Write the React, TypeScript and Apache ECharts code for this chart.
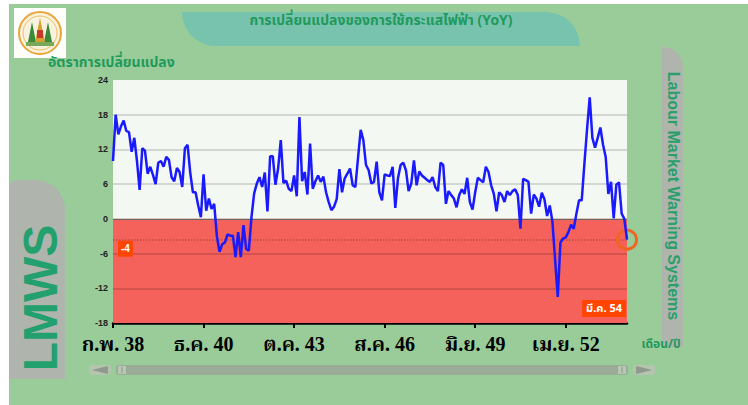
import React, { useEffect, useRef } from "react";
import * as echarts from "echarts";

// Thai month abbreviations; series starts at ก.พ. 38 (Feb 2538 B.E.)
const THAI_MONTHS = ["ม.ค.", "ก.พ.", "มี.ค.", "เม.ย.", "พ.ค.", "มิ.ย.", "ก.ค.", "ส.ค.", "ก.ย.", "ต.ค.", "พ.ย.", "ธ.ค."];
const START_YEAR = 38;
const START_MONTH = 1;

// YoY change of electricity use (%), monthly
const YOY_38_40 = [10, 18, 14.6, 16, 17, 15.2, 15, 11.6, 14, 10, 5, 12.2, 11.8, 7.8, 9, 7.6, 6, 9.7, 10, 9, 10.7, 10.2, 7.2, 6.5, 8.8, 8.1, 5.5, 12.2, 12.8, 8, 4.6, 4.6, 2.3, 0.3];
const YOY_40_43 = [7.7, 1.4, 3.5, 1.7, 2.6, -3, -5.7, -4.4, -4.1, -2.7, -2.9, -2.9, -6.6, -2.3, -6.6, -1.1, -5.2, -5.5, 0.3, 4.4, 6.1, 7.2, 5.5, 8, 1.3, 10.8, 10.8, 5.9, 8.7, 13.6, 6.2, 6.6, 5.2, 4.8];
const YOY_43_46 = [7.5, 3.9, 17.6, 6.5, 8.1, 4.2, 13, 5.2, 6.5, 7.5, 6.4, 7.3, 4.6, 2.9, 1.5, 2.1, 3.4, 8.6, 4.6, 7, 7.8, 8.7, 5.8, 5.5, 10.5, 15.4, 13.6, 9.3, 8.4, 6.1, 6.4, 9.9, 4.6, 3.2];
const YOY_46_49 = [7.7, 7.5, 7.4, 9, 1.9, 7, 9.3, 9.7, 8.4, 4.8, 6.1, 10.1, 5.8, 8.2, 7.5, 7.1, 6.7, 6.4, 7.2, 5.5, 4.8, 9.7, 9.3, 2.6, 4.8, 4.1, 3.5, 2, 4.1, 5.1, 4.3, 7.1, 2.9, 1.6];
const YOY_49_52 = [4.6, 7.1, 6.7, 6.3, 9, 8.1, 5.8, 4.3, 1.3, 4.6, 4.1, 2.9, 4.8, 4.1, 4.8, 5.1, 4.1, -1.7, 6.9, 6.7, 6.4, 0.9, 4.2, 3.5, 2.1, 4.5, 3.4, 0.5, 2.3, -0.5, -7, -13.5, -4.1, -3.4];
const YOY_52_54 = [-3.2, -2.3, -1, -1.7, 0.9, 3.2, 3.2, 9.5, 15.5, 21, 14, 12.3, 14, 15.8, 12.8, 10.7, 4.3, 6.4, 0.1, 5.9, 6.3, 0.9, 0, -3.6];

const VALUES = [...YOY_38_40, ...YOY_40_43, ...YOY_43_46, ...YOY_46_49, ...YOY_49_52, ...YOY_52_54];

const CATEGORIES = VALUES.map((_, i) => {
  const m = START_MONTH + i;
  return THAI_MONTHS[m % 12] + " " + (START_YEAR + Math.floor(m / 12));
});

const Y_MIN = -18;
const Y_MAX = 24;
const Y_STEP = 6;
const GRID_LINES = [18, 12, 6, -6, -12];
const LABEL_EVERY = 34;

const TITLE = "การเปลี่ยนแปลงของการใช้กระแสไฟฟ้า (YoY)";
const Y_NAME = "อัตราการเปลี่ยนแปลง";
const X_NAME = "เดือน/ปี";
const SIDE_TEXT = "Labour Market Warning Systems";
const LOGO_TEXT = "LMWS";

const THAI_FONT = "'Noto Sans Thai', 'Noto Serif Thai', Tahoma, 'DejaVu Sans', sans-serif";
const SERIF_FONT = "'Liberation Serif', 'Noto Serif Thai', 'Noto Sans Thai', serif";

const LOGO_SVG =
  "<svg xmlns='http://www.w3.org/2000/svg' width='52' height='50'>" +
  "<rect width='52' height='50' fill='#ffffff'/>" +
  "<circle cx='26' cy='25' r='21' fill='#f7f1de' stroke='#e8a63a' stroke-width='2'/>" +
  "<circle cx='26' cy='25' r='17' fill='none' stroke='#f0c060' stroke-width='1'/>" +
  "<polygon points='14,34 18,14 22,34' fill='#3a8a3a'/>" +
  "<polygon points='30,34 34,14 38,34' fill='#3a8a3a'/>" +
  "<polygon points='21,34 26,10 31,34' fill='#d8a030'/>" +
  "<rect x='23' y='22' width='6' height='8' fill='#c83a2a'/>" +
  "<rect x='12' y='34' width='28' height='4' fill='#7aa85a'/>" +
  "</svg>";

export default function App() {
  const ref = useRef<HTMLDivElement>(null);

  useEffect(() => {
    document.body.style.margin = "0";
    if (!ref.current) return;
    const chart = echarts.init(ref.current, null, { renderer: "svg" });
    const last = VALUES.length - 1;
    const lastVal = VALUES[last];

    const option: any = {
      animation: false,
      backgroundColor: "#ffffff",
      grid: { left: 113, right: 121, top: 80, bottom: 82, containLabel: false },
      xAxis: {
        type: "category",
        data: CATEGORIES,
        boundaryGap: false,
        axisLine: { show: true, onZero: false, lineStyle: { color: "#000000", width: 2.5 } },
        axisTick: {
          show: true,
          interval: LABEL_EVERY - 1,
          length: 5,
          lineStyle: { color: "#000000", width: 2 },
        },
        axisLabel: {
          interval: LABEL_EVERY - 1,
          color: "#000000",
          fontSize: 20,
          fontWeight: "bold",
          fontFamily: SERIF_FONT,
          margin: 11,
        },
        splitLine: { show: false },
      },
      yAxis: {
        type: "value",
        min: Y_MIN,
        max: Y_MAX,
        interval: Y_STEP,
        axisLine: { show: false },
        axisTick: { show: false },
        splitLine: { show: false },
        axisLabel: {
          color: "#222222",
          fontSize: 9,
          fontWeight: "bold",
          fontFamily: "'Liberation Sans', Arial, sans-serif",
          margin: 5,
        },
      },
      series: [
        {
          type: "line",
          data: [],
          z: 1,
          silent: true,
          markArea: {
            silent: true,
            itemStyle: { opacity: 1 },
            data: [
              [
                { yAxis: 0, itemStyle: { color: "#f4f8f3", opacity: 1 } },
                { yAxis: Y_MAX },
              ],
              [
                { yAxis: Y_MIN, itemStyle: { color: "#f4625b", opacity: 1 } },
                { yAxis: 0 },
              ],
            ],
          },
          markLine: {
            silent: true,
            symbol: "none",
            animation: false,
            label: { show: false },
            data: [
              ...GRID_LINES.map((v) => ({
                yAxis: v,
                lineStyle: { color: "rgba(0,0,0,0.18)", width: 1.5, type: "solid" },
                label: { show: false },
              })),
              {
                yAxis: 0,
                lineStyle: { color: "#666666", width: 1, type: "solid" },
                label: { show: false },
              },
              {
                yAxis: lastVal,
                lineStyle: { color: "rgba(0,0,0,0.22)", width: 1.5, type: "dotted" },
                label: {
                  show: true,
                  position: "insideStartBottom",
                  formatter: () => String(Math.round(lastVal)),
                  backgroundColor: "#ff4500",
                  color: "#ffffff",
                  fontSize: 10,
                  fontWeight: "bold",
                  fontFamily: "'Liberation Sans', Arial, sans-serif",
                  padding: [3, 3, 3, 3],
                  distance: [5, 1],
                },
              },
            ],
          },
        },
        {
          type: "line",
          data: VALUES,
          z: 5,
          showSymbol: false,
          symbol: "none",
          lineStyle: { color: "#1a1aff", width: 2.5 },
          markPoint: {
            silent: true,
            symbol: "circle",
            symbolSize: 19,
            itemStyle: { color: "rgba(0,0,0,0)", borderColor: "#f06522", borderWidth: 3 },
            label: { show: false },
            data: [{ coord: [CATEGORIES[last], lastVal] }],
          },
        },
      ],
      graphic: [
        { type: "rect", z: -100, shape: { x: 9, y: 4, width: 739, height: 401 }, style: { fill: "#99cc99" }, silent: true },
        {
          type: "image",
          z: -50,
          style: { image: "data:image/svg+xml;charset=utf-8," + encodeURIComponent(LOGO_SVG), x: 14, y: 8, width: 52, height: 50 },
          silent: true,
        },
        { type: "rect", z: -50, shape: { x: 182, y: 12, width: 398, height: 34, r: [0, 36, 0, 34] }, style: { fill: "#78c3ae" }, silent: true },
        {
          type: "text",
          z: 50,
          x: 381,
          y: 20,
          style: {
            text: TITLE,
            fill: "#1f9a5c",
            font: "bold 14px " + THAI_FONT,
            textAlign: "center",
            textVerticalAlign: "middle",
          },
          silent: true,
        },
        {
          type: "text",
          z: 50,
          x: 48,
          y: 62,
          style: {
            text: Y_NAME,
            fill: "#1f9a5c",
            font: "bold 14px " + THAI_FONT,
            textAlign: "left",
            textVerticalAlign: "middle",
          },
          silent: true,
        },
        { type: "rect", z: -50, shape: { x: 9, y: 180, width: 56, height: 199, r: [8, 30, 0, 0] }, style: { fill: "#afb4ac" }, silent: true },
        {
          type: "text",
          z: 50,
          x: 40,
          y: 298,
          rotation: Math.PI / 2,
          style: {
            text: LOGO_TEXT,
            fill: "#22a06e",
            font: "bold 48px 'Liberation Sans', Arial, sans-serif",
            textAlign: "center",
            textVerticalAlign: "middle",
          },
          silent: true,
        },
        { type: "rect", z: -50, shape: { x: 662, y: 47, width: 21, height: 300, r: [0, 20, 0, 0] }, style: { fill: "#afb4ac" }, silent: true },
        {
          type: "text",
          z: 50,
          x: 673,
          y: 196,
          rotation: -Math.PI / 2,
          style: {
            text: SIDE_TEXT,
            fill: "#2a9f6c",
            font: "bold 16px 'Liberation Sans', Arial, sans-serif",
            textAlign: "center",
            textVerticalAlign: "middle",
          },
          silent: true,
        },
        {
          type: "text",
          z: 50,
          x: 661,
          y: 344,
          style: {
            text: X_NAME,
            fill: "#1f9a5c",
            font: "bold 12px " + THAI_FONT,
            textAlign: "center",
            textVerticalAlign: "middle",
          },
          silent: true,
        },
        {
          type: "text",
          z: 100,
          x: 626,
          y: 317,
          style: {
            text: CATEGORIES[last],
            fill: "#ffffff",
            font: "bold 11px " + THAI_FONT,
            textAlign: "right",
            textVerticalAlign: "bottom",
            backgroundColor: "#ff4500",
            padding: [3, 4, 3, 4],
          },
          silent: true,
        },
        // scrollbar
        { type: "rect", z: -40, shape: { x: 89, y: 365, width: 22, height: 10, r: 3 }, style: { fill: "#b3c4af" }, silent: true },
        { type: "polygon", z: -39, shape: { points: [[92, 370], [108, 366], [108, 374]] }, style: { fill: "#8f9a8c" }, silent: true },
        { type: "rect", z: -40, shape: { x: 116, y: 365, width: 512, height: 10, r: 2 }, style: { fill: "#9aab97" }, silent: true },
        { type: "rect", z: -39, shape: { x: 118, y: 366, width: 8, height: 8 }, style: { fill: "#b8c7b4" }, silent: true },
        { type: "line", z: -38, shape: { x1: 122, y1: 367, x2: 122, y2: 373 }, style: { stroke: "#8a9688", lineWidth: 1 }, silent: true },
        { type: "rect", z: -39, shape: { x: 618, y: 366, width: 8, height: 8 }, style: { fill: "#b8c7b4" }, silent: true },
        { type: "line", z: -38, shape: { x1: 622, y1: 367, x2: 622, y2: 373 }, style: { stroke: "#8a9688", lineWidth: 1 }, silent: true },
        { type: "rect", z: -40, shape: { x: 633, y: 365, width: 22, height: 10, r: 3 }, style: { fill: "#b3c4af" }, silent: true },
        { type: "polygon", z: -39, shape: { points: [[652, 370], [636, 366], [636, 374]] }, style: { fill: "#8f9a8c" }, silent: true },
      ],
    };

    chart.setOption(option);
    return () => chart.dispose();
  }, []);

  return <div ref={ref} style={{ width: 748, height: 405, position: "absolute", left: 0, top: 0 }} />;
}
